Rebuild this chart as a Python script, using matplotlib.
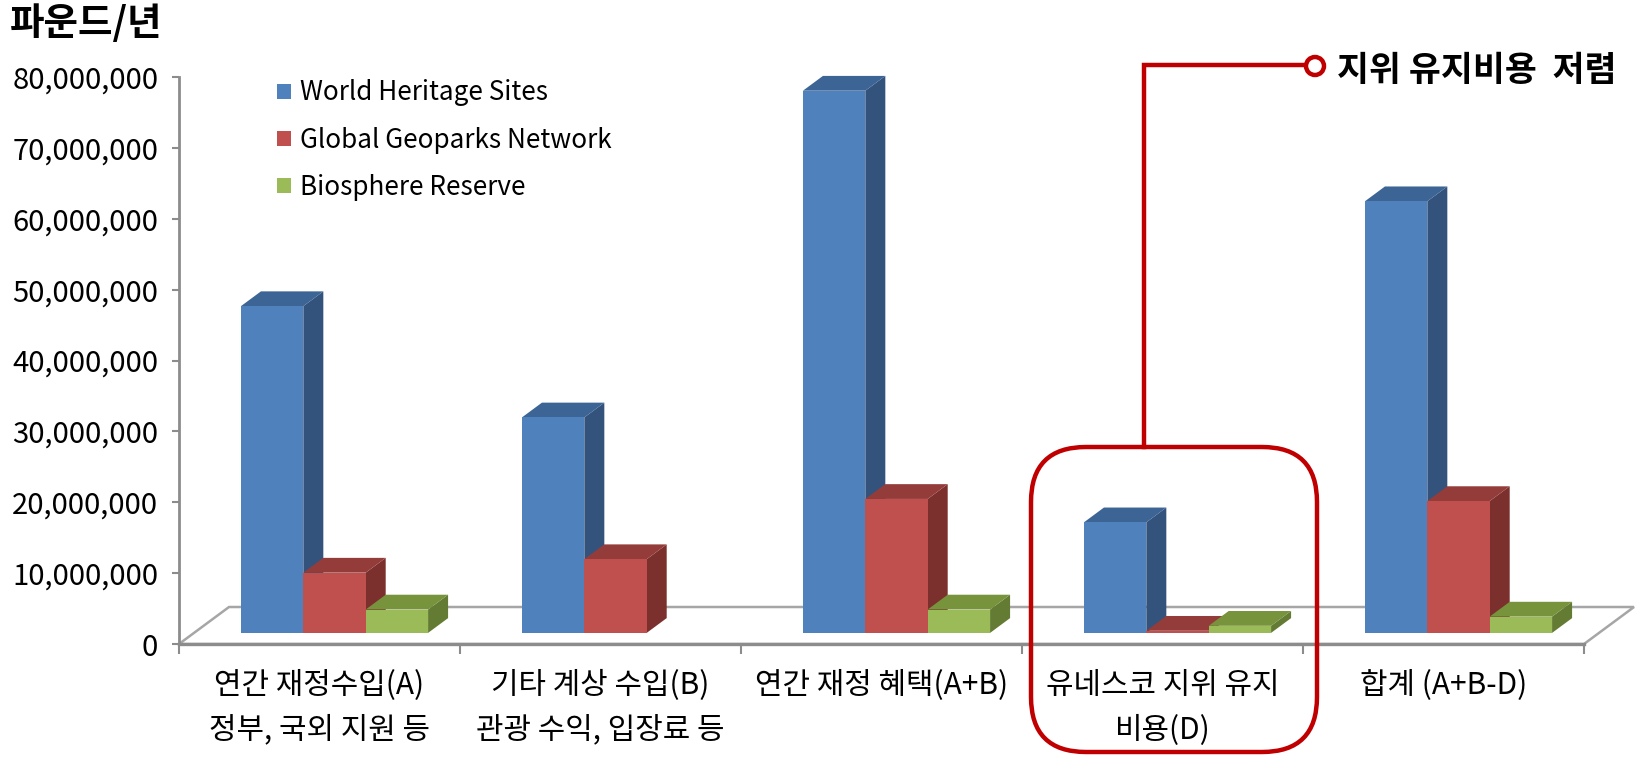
import matplotlib
matplotlib.use("Agg", force=True)
import matplotlib.pyplot as plt
from matplotlib.patches import Polygon, FancyBboxPatch, Patch, Circle
from matplotlib.lines import Line2D
from matplotlib.ticker import FuncFormatter
from matplotlib.transforms import Affine2D

plt.rcParams["font.family"] = ["Noto Sans CJK KR", "DejaVu Sans"]

# ---- data (파운드/년) ----
categories = [
    "연간 재정수입(A)\n정부, 국외 지원 등",
    "기타 계상 수입(B)\n관광 수익, 입장료 등",
    "연간 재정 혜택(A+B)",
    "유네스코 지위 유지\n비용(D)",
    "합계 (A+B-D)",
]
series_names = ["World Heritage Sites", "Global Geoparks Network", "Biosphere Reserve"]
world_heritage = [46_100_000, 30_400_000, 76_500_000, 15_600_000, 60_900_000]
geoparks = [8_500_000, 10_400_000, 18_900_000, 300_000, 18_600_000]
biosphere = [3_300_000, 0, 3_300_000, 1_000_000, 2_300_000]
values = [world_heritage, geoparks, biosphere]

front_colors = ["#4F81BD", "#C0504D", "#9BBB59"]
top_colors = ["#3C6494", "#943C3A", "#77933C"]
side_colors = ["#33537C", "#7B302E", "#637B33"]

W, H = 1650, 758
fig = plt.figure(figsize=(W / 100, H / 100), dpi=100)

# axes: x in category units, y in value units
x_px0, y_px0 = 179, 644
cat_px = 281
ax = fig.add_axes([x_px0 / W, (H - y_px0) / H, 5.2 * cat_px / W, (644 - 77) / H])
ax.set_xlim(0, 5.2)
ax.set_ylim(0, 80_000_000)

# 3D floor depth (category units, value units)
FDX, FDY = 0.178, 5_220_000
D0, D1 = 0.30, 0.70          # bars occupy this depth fraction
bar_w = 0.222
n = len(categories)

floor = Polygon([(0, 0), (n, 0), (n + FDX, FDY), (FDX, FDY)], closed=True,
                facecolor="white", edgecolor="#A6A6A6", lw=1.8, zorder=1, clip_on=False)
ax.add_patch(floor)
ax.plot([0, n], [0, 0], color="#8C8C8C", lw=2.4, zorder=1.5, clip_on=False)

bdx, bdy = (D1 - D0) * FDX, (D1 - D0) * FDY
z = 2
for i in range(n):
    for j in range(3):
        v = values[j][i]
        if v <= 0:
            continue
        x0 = i + 0.5 + (j - 1.5) * bar_w + D0 * FDX
        y0 = D0 * FDY
        x1, y1 = x0 + bar_w, y0 + v
        side = Polygon([(x1, y0), (x1 + bdx, y0 + bdy), (x1 + bdx, y1 + bdy), (x1, y1)],
                       facecolor=side_colors[j], edgecolor="none", zorder=z, clip_on=False)
        top = Polygon([(x0, y1), (x1, y1), (x1 + bdx, y1 + bdy), (x0 + bdx, y1 + bdy)],
                      facecolor=top_colors[j], edgecolor="none", zorder=z + 0.1, clip_on=False)
        front = Polygon([(x0, y0), (x1, y0), (x1, y1), (x0, y1)],
                        facecolor=front_colors[j], edgecolor="none", zorder=z + 0.2, clip_on=False)
        for p in (side, top, front):
            ax.add_patch(p)
        z += 1

# axes styling
for s in ("top", "right", "bottom"):
    ax.spines[s].set_visible(False)
ax.spines["left"].set_color("#8C8C8C")
ax.spines["left"].set_linewidth(2)
ax.set_yticks(range(0, 80_000_001, 10_000_000))
ax.yaxis.set_major_formatter(FuncFormatter(lambda v, p: f"{int(v):,}"))
ax.tick_params(axis="y", colors="#8C8C8C", width=1.5, length=5, pad=10,
               labelcolor="black", labelsize=21)
ax.set_xticks(range(0, n + 1))
ax.set_xticklabels([])
ax.set_xticks([i + 0.5 for i in range(n)], minor=True)
ax.set_xticklabels(categories, minor=True, fontsize=21.5, linespacing=1.55)
ax.tick_params(axis="x", which="major", colors="#8C8C8C", width=1.5, length=7)
ax.tick_params(axis="x", which="minor", length=0, pad=19, labelcolor="black")

# legend
handles = [Patch(facecolor=c, edgecolor="none") for c in front_colors]
fig.legend(handles, series_names, loc="upper left", bbox_to_anchor=(267 / W, 1 - 69 / H),
           frameon=False, fontsize=18.8, handlelength=0.5, handleheight=0.5,
           handletextpad=0.35, labelspacing=0.78, borderaxespad=0)

# title
fig.text(10 / W, 1 - 24 / H, "파운드/년", fontsize=27, fontweight="bold", va="center", ha="left")

# annotation (pixel coords, y from top)
px = Affine2D().scale(1 / W, 1 / H) + fig.transFigure
red = "#C00000"
box = FancyBboxPatch((1031, H - 752), 286, 305, boxstyle="round,pad=0,rounding_size=55",
                     transform=px, facecolor="none", edgecolor=red, lw=3.2, zorder=20)
fig.add_artist(box)
fig.add_artist(Line2D([1144, 1144, 1305], [H - 447, H - 65, H - 65], transform=px,
                      color=red, lw=3.2, solid_joinstyle="miter", zorder=20))
fig.add_artist(Circle((1315, H - 66), 9, transform=px, facecolor="white",
                      edgecolor=red, lw=3.2, zorder=21))
fig.text(1337 / W, 1 - 70 / H, "지위 유지비용  저렴", fontsize=25, fontweight="bold",
         va="center", ha="left")

fig.savefig("out.png", dpi=100)
